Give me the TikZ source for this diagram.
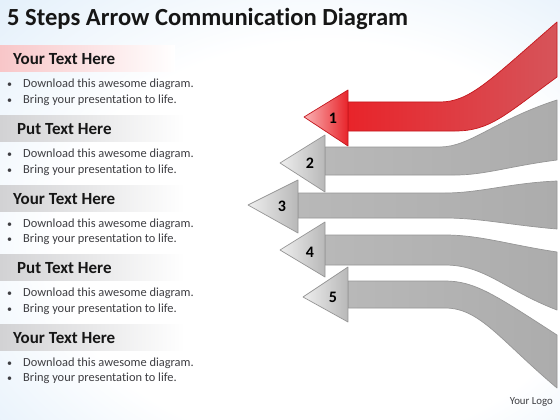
\documentclass[tikz,border=0pt]{standalone}
\usepackage{fontspec}
\setmainfont{Carlito}[Ligatures=NoCommon]
\definecolor{bgA}{RGB}{212,231,248}
\definecolor{bgB}{RGB}{188,216,243}
\definecolor{bandgray}{RGB}{210,210,212}
\definecolor{bandpink}{RGB}{248,198,200}
\definecolor{txtdark}{RGB}{22,22,22}
\definecolor{txtbody}{RGB}{62,62,66}
\definecolor{graylight}{RGB}{238,238,238}
\definecolor{graymid}{RGB}{184,184,184}
\definecolor{grayend}{RGB}{172,172,172}
\definecolor{grayedge}{RGB}{150,150,150}
\definecolor{redmain}{RGB}{232,36,42}
\definecolor{redend}{RGB}{214,84,90}
\definecolor{redlight}{RGB}{250,178,180}
\definecolor{rededge}{RGB}{196,22,28}
\pgfdeclareradialshading{bgshade}{\pgfpoint{6bp}{-6bp}}{color(0bp)=(white); color(24bp)=(white); color(48bp)=(bgA); color(72bp)=(bgB)}
\tikzset{
  ttl/.style={font=\fontsize{24.6}{26}\selectfont\bfseries, text=txtdark, anchor=base west, inner sep=0pt},
  hdr/.style={font=\fontsize{17}{19}\selectfont\bfseries, text=txtdark, anchor=base west, inner sep=0pt},
  bul/.style={font=\fontsize{12.4}{14}\selectfont, text=txtbody, anchor=base west, inner sep=0pt},
  dot/.style={font=\fontsize{10}{12}\selectfont, text=txtbody, anchor=base west, inner sep=0pt},
  num/.style={font=\fontsize{16}{18}\selectfont\bfseries, text=black, inner sep=0pt},
  logo/.style={font=\fontsize{10.8}{12}\selectfont, text=txtbody, anchor=base east, inner sep=0pt},
  grayshaft/.style={left color=graymid, right color=grayend, draw=grayedge, line width=0.7pt, line join=round},
  grayhead/.style={left color=graylight, right color=graymid, draw=grayedge, line width=0.7pt, line join=round},
  redshaft/.style={left color=redmain, right color=redend, draw=rededge, line width=0.7pt, line join=round},
  redhead/.style={left color=redlight, right color=redmain, draw=rededge, line width=0.7pt, line join=round},
  bandg/.style={left color=bandgray, middle color=bandgray!75!white, right color=white, draw=none},
  bandp/.style={left color=bandpink, middle color=bandpink!65!white, right color=white, draw=none}
}
\begin{document}
\begin{tikzpicture}[x=1pt,y=-1pt]
\useasboundingbox (0,0) rectangle (560,420);
\shade[shading=bgshade] (0,0) rectangle (560,420);

% header bands
\shade[bandp] (0,46) rectangle (175,72);
\shade[bandg] (0,115.5) rectangle (185,141.5);
\shade[bandg] (0,185) rectangle (185,211);
\shade[bandg] (0,254.5) rectangle (185,280.5);
\shade[bandg] (0,324) rectangle (185,350);

% title
\node[ttl] (title) at (7,25.5) {5 Steps Arrow Communication Diagram};

% text blocks
\node[hdr] (h1) at (13,65) {Your Text Here};
\node[dot] (b1a) at (7,88) {•}; \node[bul] (t1a) at (23,88) {Download this awesome diagram.};
\node[dot] (b1b) at (7,103.5) {•}; \node[bul] (t1b) at (23,103.5) {Bring your presentation to life.};

\node[hdr] (h2) at (17,134.5) {Put Text Here};
\node[dot] (b2a) at (7,157.5) {•}; \node[bul] (t2a) at (23,157.5) {Download this awesome diagram.};
\node[dot] (b2b) at (7,173) {•}; \node[bul] (t2b) at (23,173) {Bring your presentation to life.};

\node[hdr] (h3) at (13,204) {Your Text Here};
\node[dot] (b3a) at (7,227) {•}; \node[bul] (t3a) at (23,227) {Download this awesome diagram.};
\node[dot] (b3b) at (7,242.5) {•}; \node[bul] (t3b) at (23,242.5) {Bring your presentation to life.};

\node[hdr] (h4) at (17,273.5) {Put Text Here};
\node[dot] (b4a) at (7,296.5) {•}; \node[bul] (t4a) at (23,296.5) {Download this awesome diagram.};
\node[dot] (b4b) at (7,312) {•}; \node[bul] (t4b) at (23,312) {Bring your presentation to life.};

\node[hdr] (h5) at (13,343) {Your Text Here};
\node[dot] (b5a) at (7,366) {•}; \node[bul] (t5a) at (23,366) {Download this awesome diagram.};
\node[dot] (b5b) at (7,381.5) {•}; \node[bul] (t5b) at (23,381.5) {Bring your presentation to life.};

% arrow 3
\path[grayshaft] (298,193) -- (445,193) .. controls (480,193) and (510,183) .. (557,181)
  -- (557,229) .. controls (510,225) and (480,218) .. (445,218) -- (298,218) -- cycle;
\path[grayhead] (248,205) -- (298,180) -- (298,233) -- cycle;
% arrow 2
\path[grayshaft] (325,147) -- (440,147) .. controls (470,147) and (495,120) .. (557,100)
  -- (557,160) .. controls (510,166) and (485,175) .. (455,175) -- (325,175) -- cycle;
\path[grayhead] (280,163) -- (325,135) -- (325,192) -- cycle;
% arrow 4
\path[grayshaft] (325,235) -- (445,235) .. controls (480,235) and (510,245) .. (557,252)
  -- (557,310) .. controls (505,290) and (485,265) .. (445,265) -- (325,265) -- cycle;
\path[grayhead] (280,250) -- (325,222) -- (325,277) -- cycle;
% arrow 5
\path[grayshaft] (348,281) -- (445,281) .. controls (475,281) and (495,295) .. (557,335)
  -- (557,388) .. controls (500,340) and (480,308) .. (445,308) -- (348,308) -- cycle;
\path[grayhead] (303,297) -- (348,267) -- (348,322) -- cycle;
% arrow 1
\path[redshaft] (348,102) -- (440,102) .. controls (470,102) and (490,80) .. (557,22)
  -- (557,77) .. controls (505,115) and (490,131) .. (455,131) -- (348,131) -- cycle;
\path[redhead] (304,117) -- (348,90) -- (348,146) -- cycle;

% numbers
\node[num] (n1) at (333,118) {1};
\node[num] (n2) at (310,163) {2};
\node[num] (n3) at (282,206) {3};
\node[num] (n4) at (310,252) {4};
\node[num] (n5) at (333,297) {5};

\node[logo] (logo) at (553,404) {Your Logo};
\end{tikzpicture}
\end{document}
